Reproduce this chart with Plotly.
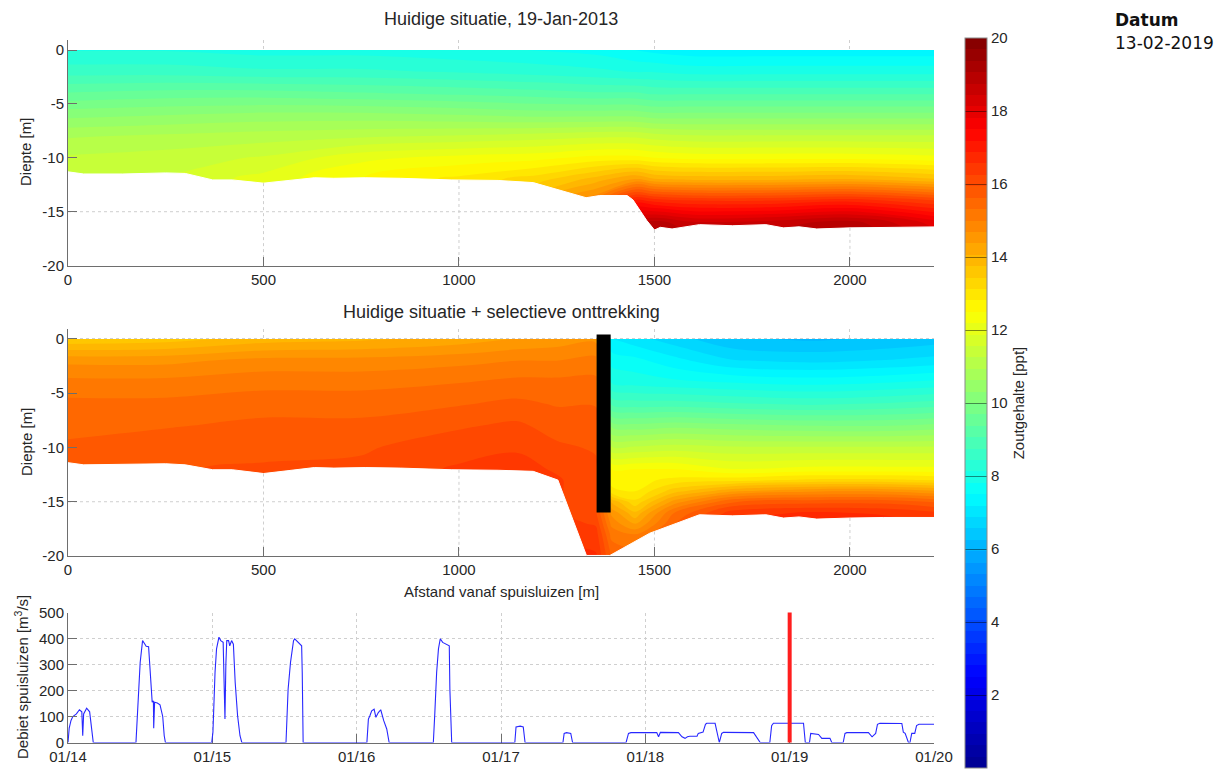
import numpy as np
import pandas as pd
import plotly.graph_objects as go

# ---------------- data ----------------
# Panel 1: present situation (salinity profiles per distance, surface -> bottom)
dist_now = [0, 250, 500, 750, 1000, 1200, 1350, 1450, 1500, 1600, 1800, 2000, 2215]
depth_now = [0, -2, -4, -6, -8, -10, -12, -14, -16, -17]
salt_now = [
    [8.1, 8.6, 9.4, 10.2, 10.9, 11.3, 11.5, 11.5, 11.5, 11.5],
    [8.1, 8.6, 9.5, 10.3, 11.0, 11.4, 11.6, 11.6, 11.6, 11.6],
    [8.0, 8.5, 9.5, 10.4, 11.1, 11.6, 12.0, 12.0, 12.0, 12.0],
    [8.0, 8.5, 9.4, 10.4, 11.2, 12.1, 12.5, 12.5, 12.5, 12.5],
    [7.9, 8.4, 9.3, 10.3, 11.3, 12.3, 12.9, 12.9, 12.9, 12.9],
    [7.8, 8.3, 9.2, 10.2, 11.4, 12.4, 13.3, 14.0, 14.0, 14.0],
    [7.7, 8.2, 9.1, 10.2, 11.5, 12.6, 13.9, 15.0, 15.0, 15.0],
    [7.5, 8.1, 9.1, 10.2, 11.5, 12.6, 14.4, 17.0, 18.6, 18.6],
    [7.4, 8.1, 9.0, 10.1, 11.4, 12.5, 14.1, 16.8, 18.9, 19.1],
    [7.3, 8.0, 9.0, 10.1, 11.3, 12.4, 14.0, 16.6, 18.5, 18.7],
    [7.3, 8.0, 9.0, 10.1, 11.3, 12.4, 14.0, 16.6, 18.6, 18.8],
    [7.3, 8.0, 9.0, 10.1, 11.3, 12.4, 14.1, 16.8, 18.9, 19.1],
    [7.3, 8.0, 9.0, 10.1, 11.3, 12.3, 13.8, 16.3, 18.0, 18.2],
]
bed_now_x = [0, 40, 140, 250, 300, 370, 420, 500, 560, 630, 680, 760, 850, 980, 1100,
             1190, 1325, 1360, 1430, 1445, 1480, 1500, 1515, 1545, 1615, 1700, 1785,
             1830, 1870, 1915, 2000, 2085, 2215]
bed_now_d = [-11.3, -11.5, -11.5, -11.4, -11.45, -12.05, -12.05, -12.35, -12.15, -11.85,
             -11.9, -11.85, -11.9, -12.05, -12.1, -12.3, -13.7, -13.5, -13.5, -13.9,
             -15.8, -16.7, -16.45, -16.6, -16.2, -16.3, -16.2, -16.5, -16.4, -16.6,
             -16.5, -16.45, -16.4]

# Panel 2: present situation + selective withdrawal
dist_sel = [0, 250, 500, 750, 1000, 1150, 1250, 1350, 1390, 1450, 1550, 1700, 1900, 2100, 2215]
depth_sel = [0, -2, -4, -6, -8, -10, -12, -13, -14, -15, -16, -17, -18, -20]
salt_sel = [
    [13.5, 14.6, 15.1, 15.4, 15.5, 15.7, 15.8, 15.8, 15.8, 15.8, 15.8, 15.8, 15.8, 15.8],
    [13.6, 14.6, 15.1, 15.4, 15.6, 15.8, 15.9, 15.9, 15.9, 15.9, 15.9, 15.9, 15.9, 15.9],
    [13.9, 14.8, 15.2, 15.5, 15.7, 15.8, 16.0, 16.0, 16.0, 16.0, 16.0, 16.0, 16.0, 16.0],
    [14.0, 14.8, 15.2, 15.5, 15.7, 15.9, 16.0, 16.0, 16.0, 16.0, 16.0, 16.0, 16.0, 16.0],
    [14.2, 14.9, 15.3, 15.6, 15.9, 16.1, 16.3, 16.3, 16.3, 16.3, 16.3, 16.3, 16.3, 16.3],
    [14.4, 15.0, 15.4, 15.7, 16.0, 16.2, 16.4, 16.4, 16.4, 16.4, 16.4, 16.4, 16.4, 16.4],
    [14.5, 15.0, 15.4, 15.6, 15.8, 16.0, 16.2, 16.3, 16.3, 16.3, 16.3, 16.4, 16.5, 16.6],
    [14.6, 15.1, 15.4, 15.6, 15.8, 15.9, 16.0, 16.0, 16.0, 16.0, 16.0, 16.2, 16.4, 16.6],
    [7.2, 7.7, 8.1, 9.0, 10.2, 11.3, 12.5, 12.7, 12.9, 14.0, 14.6, 14.9, 15.2, 15.6],
    [7.0, 7.6, 8.0, 8.9, 10.1, 11.3, 12.5, 12.7, 12.8, 13.2, 13.8, 14.3, 15.0, 15.5],
    [6.7, 7.3, 7.9, 8.9, 10.2, 11.4, 12.5, 12.9, 13.6, 14.5, 15.3, 15.6, 15.8, 15.8],
    [6.3, 6.9, 7.8, 8.8, 10.1, 11.3, 12.2, 13.0, 14.3, 15.6, 16.4, 16.6, 16.6, 16.6],
    [6.2, 6.8, 7.7, 8.7, 10.0, 11.3, 12.3, 13.2, 14.6, 15.8, 16.6, 16.8, 16.8, 16.8],
    [6.3, 6.9, 7.8, 8.8, 10.0, 11.3, 12.3, 13.2, 14.6, 15.8, 16.5, 16.7, 16.7, 16.7],
    [6.4, 7.0, 7.9, 8.9, 10.1, 11.3, 12.3, 13.1, 14.4, 15.6, 16.3, 16.5, 16.5, 16.5],
]
bed_sel_x = [0, 40, 140, 250, 300, 370, 420, 500, 560, 630, 680, 760, 850, 980, 1100,
             1190, 1253, 1326, 1386, 1488, 1615, 1700, 1785, 1830, 1870, 1915, 2000,
             2085, 2215]
bed_sel_d = [-11.4, -11.6, -11.55, -11.5, -11.6, -12.05, -12.05, -12.4, -12.15, -11.85,
             -11.9, -11.85, -11.9, -12.05, -12.1, -12.2, -13.0, -19.95, -19.95, -17.9,
             -16.2, -16.3, -16.2, -16.5, -16.4, -16.6, -16.5, -16.45, -16.45]
screen_x = [1352, 1388]
screen_d = [0.4, -16.0]

# Panel 3: discharge of the sluices (hours after 14-Jan-2013 00:00)
flow_start = "2013-01-14 00:00"
flow_hours = [0.0, 0.2, 0.5, 0.8, 1.4, 1.9, 2.3, 2.4, 2.45, 2.6, 3.1, 3.6, 3.9, 4.2,
              11.3, 11.7, 12.0, 12.4, 12.6, 13.0, 13.4, 13.6, 13.9, 14.0, 14.2, 14.25, 14.4,
              14.85, 15.3, 15.75, 16.0, 16.2,
              23.9, 24.1, 24.45, 24.7, 25.1, 25.4, 25.8, 25.95, 26.1, 26.25, 26.4, 26.7,
              26.9, 27.2, 27.5, 27.8, 28.2, 28.6, 28.9,
              36.25, 36.6, 37.0, 37.5, 37.7, 38.3, 38.85, 38.95, 39.1,
              49.7, 49.95, 50.2, 50.5, 50.9, 51.2, 51.6, 52.0, 52.5, 53.0, 53.4,
              60.75, 61.0, 61.3, 61.6, 61.9, 62.3, 63.0, 63.4, 63.5, 63.8,
              74.3, 74.5, 75.2, 75.7, 76.0,
              82.3, 82.5, 82.9, 83.6, 83.9,
              92.8, 93.2, 93.6, 96.0, 97.9, 98.2, 98.5, 101.5, 102.1, 102.6, 103.0, 103.4,
              104.6, 104.8, 105.6, 106.0, 106.2, 107.6, 107.9, 108.3, 108.7, 109.0, 114.0,
              114.5, 115.1,
              116.7, 117.0, 117.3, 122.3, 122.6,
              123.3, 123.5, 124.8, 125.35, 126.7, 127.0,
              128.9, 129.2, 129.5, 133.1, 133.7, 134.3, 134.6, 135.0, 138.65, 138.9, 139.2,
              139.75, 140.0, 140.3, 140.8, 141.1, 141.5, 144.0]
flow_m3s = [0, 55, 85, 100, 110, 126, 118, 60, 26, 110, 132, 118, 52, 0,
            0, 205, 308, 392, 385, 370, 368, 283, 180, 155, 160, 55, 155,
            152, 145, 100, 26, 0,
            0, 40, 270, 360, 405, 392, 385, 200, 90, 300, 392, 392,
            372, 392, 378, 231, 103, 26, 0,
            0, 205, 308, 392, 399, 385, 372, 270, 0,
            0, 90, 103, 122, 128, 97, 115, 126, 84, 52, 0,
            0, 115, 270, 360, 399, 385, 378, 372, 205, 0,
            0, 60, 63, 60, 0,
            0, 35, 38, 35, 0,
            0, 35, 38, 38, 38, 22, 39, 38, 22, 16, 22, 24,
            24, 35, 40, 70, 74, 74, 40, 0, 35, 39, 38,
            22, 0,
            0, 65, 74, 74, 0,
            0, 35, 31, 16, 16, 0,
            0, 35, 38, 38, 22, 35, 70, 74, 73, 40, 35,
            0, 0, 35, 35, 65, 70, 70]
current_time = "2013-01-19 00:00"
flow_range = ["2013-01-14", "2013-01-20"]

dist_ticks = [0, 500, 1000, 1500, 2000]
depth_ticks = [-20, -15, -10, -5, 0]
depth_tick_labels = ["-20", "-15", "-10", "-5", "0"]
flow_ticks = [0, 100, 200, 300, 400, 500]
salt_ticks = [0, 2, 4, 6, 8, 10, 12, 14, 16, 18, 20]

# ---------------- styling ----------------
FONT = "Liberation Sans, Arial, Helvetica, sans-serif"
GRID = "#cfcfcf"
AXC = "#6e6e6e"
TXT = "#262626"
jet = [[0.0, "rgb(0,0,143)"], [0.125, "rgb(0,0,255)"], [0.375, "rgb(0,255,255)"],
       [0.625, "rgb(255,255,0)"], [0.875, "rgb(255,0,0)"], [1.0, "rgb(128,0,0)"]]
levels = dict(start=salt_ticks[0], end=salt_ticks[-1], size=(salt_ticks[-1] - salt_ticks[0]) / 64,
              coloring="fill", showlines=False)

W, H = 1217, 769
xdom = [68 / W, 934 / W]

fig = go.Figure()

def section(dist, depth, salt, bx, bd, xa, ya, show):
    cb = dict(x=965 / W, xanchor="left", xpad=0, y=1 - 403 / H, yanchor="middle", ypad=0,
              len=730 / H, lenmode="fraction", thickness=22, thicknessmode="pixels",
              outlinecolor="#8a8a8a", outlinewidth=1, tickvals=salt_ticks,
              ticks="inside", ticklen=22, tickcolor="rgba(0,0,0,0.45)", tickwidth=1,
              tickfont=dict(family=FONT, size=15, color=TXT),
              title=dict(text="Zoutgehalte [ppt]", side="right",
                         font=dict(family=FONT, size=15, color=TXT)))
    fig.add_trace(go.Contour(x=dist, y=depth, z=salt, transpose=True, colorscale=jet,
                             zmin=0, zmax=20, autocontour=False, contours=levels,
                             line=dict(width=0), showscale=show, colorbar=cb,
                             xaxis=xa, yaxis=ya, hoverinfo="skip"))
    # white area below the bed (extends past the axis bottom; clipped by the axes)
    low = depth_ticks[0] - 1
    fig.add_trace(go.Scatter(x=[bx[0] - 20] + bx + [bx[-1] + 20, bx[-1] + 20, bx[0] - 20],
                             y=[bd[0]] + bd + [bd[-1], low, low],
                             fill="toself", fillcolor="white", mode="lines",
                             line=dict(color="white", width=1), xaxis=xa, yaxis=ya,
                             hoverinfo="skip"))
    # grid lines visible in the white area below the bed
    xs = np.linspace(bx[0], bx[-1], 1500)
    bed = np.interp(xs, bx, bd)
    gx, gy = [], []
    for yt in depth_ticks[1:-1]:
        ys = np.where(bed > yt, yt, np.nan)
        gx += list(xs) + [None]
        gy += [None if np.isnan(v) else float(v) for v in ys] + [None]
    for xt in dist_ticks[1:]:
        gx += [xt, xt, None]
        gy += [float(np.interp(xt, bx, bd)), depth_ticks[0], None]
    fig.add_trace(go.Scatter(x=gx, y=gy, mode="lines", connectgaps=False,
                             line=dict(color=GRID, width=1, dash="3px,3px"),
                             xaxis=xa, yaxis=ya, hoverinfo="skip"))

section(dist_now, depth_now, salt_now, bed_now_x, bed_now_d, "x", "y", True)
section(dist_sel, depth_sel, salt_sel, bed_sel_x, bed_sel_d, "x2", "y2", False)

# selective withdrawal screen
fig.add_shape(type="rect", xref="x2", yref="y2", x0=screen_x[0], x1=screen_x[1],
              y0=screen_d[1], y1=screen_d[0], fillcolor="black", line=dict(width=0))

# discharge series
flow_times = pd.Timestamp(flow_start) + pd.to_timedelta(flow_hours, unit="h")
fig.add_trace(go.Scatter(x=flow_times, y=flow_m3s, mode="lines",
                         line=dict(color="rgb(40,40,255)", width=1.1),
                         xaxis="x3", yaxis="y3", hoverinfo="skip"))
fig.add_shape(type="line", xref="x3", yref="y3 domain", x0=current_time, x1=current_time,
              y0=0, y1=1, line=dict(color="rgb(255,30,30)", width=4))

axis_common = dict(showline=True, linecolor=AXC, linewidth=1, ticks="inside", ticklen=9,
                   tickcolor=AXC, showgrid=True, gridcolor=GRID, griddash="3px,3px",
                   gridwidth=1, zeroline=False, tickfont=dict(family=FONT, size=15, color=TXT),
                   mirror=False, automargin=False)

fig.update_layout(
    width=W, height=H, margin=dict(l=0, r=0, t=0, b=0, autoexpand=False),
    paper_bgcolor="white", plot_bgcolor="white", showlegend=False,
    font=dict(family=FONT, size=15, color=TXT),
    xaxis=dict(domain=xdom, anchor="y", range=[0, 2215], tickvals=dist_ticks, **axis_common),
    yaxis=dict(domain=[1 - 265.6 / H, 1 - 40 / H], anchor="x", range=[-20, 0.93],
               tickvals=depth_ticks, ticktext=depth_tick_labels, **axis_common),
    xaxis2=dict(domain=xdom, anchor="y2", range=[0, 2215], tickvals=dist_ticks, **axis_common),
    yaxis2=dict(domain=[1 - 556 / H, 1 - 329.3 / H], anchor="x2", range=[-20, 0.89],
                tickvals=depth_ticks, ticktext=depth_tick_labels, **axis_common),
    xaxis3=dict(domain=xdom, anchor="y3", type="date", range=flow_range, tickformat="%m/%d",
                dtick=86400000, tick0=flow_range[0], layer="below traces", **axis_common),
    yaxis3=dict(domain=[1 - 742.5 / H, 1 - 612.5 / H], anchor="x3", range=[0, 500],
                tickvals=flow_ticks, **axis_common),
)

def note(text, x, y, size=15, angle=0, xanchor="center", family=FONT, color=TXT):
    fig.add_annotation(text=text, x=x, y=y, xref="paper", yref="paper", showarrow=False,
                       xanchor=xanchor, yanchor="middle", textangle=angle,
                       font=dict(family=family, size=size, color=color))

xc = (xdom[0] + xdom[1]) / 2
note("Huidige situatie, 19-Jan-2013", xc, 1 - 19 / H, size=18)
note("Huidige situatie + selectieve onttrekking", xc, 1 - 312 / H, size=18)
note("Afstand vanaf spuisluizen [m]", xc, 1 - 591 / H)
note("Diepte [m]", 26 / W, 1 - 152 / H, angle=-90)
note("Diepte [m]", 26 / W, 1 - 442 / H, angle=-90)
note("Debiet spuisluizen [m<sup>3</sup>/s]", 21 / W, 1 - 677 / H, angle=-90)
note("<b>Datum</b>", 1113 / W, 1 - 20 / H, size=17, xanchor="left",
     family="DejaVu Sans, Verdana, sans-serif", color="#111")
note("13-02-2019", 1113 / W, 1 - 43 / H, size=17, xanchor="left",
     family="DejaVu Sans, Verdana, sans-serif", color="#111")

# remove the page's default body margin so the figure fills the window exactly
fig.write_html("out.html", config={"displayModeBar": False},
               post_script="document.body.style.margin='0';")
